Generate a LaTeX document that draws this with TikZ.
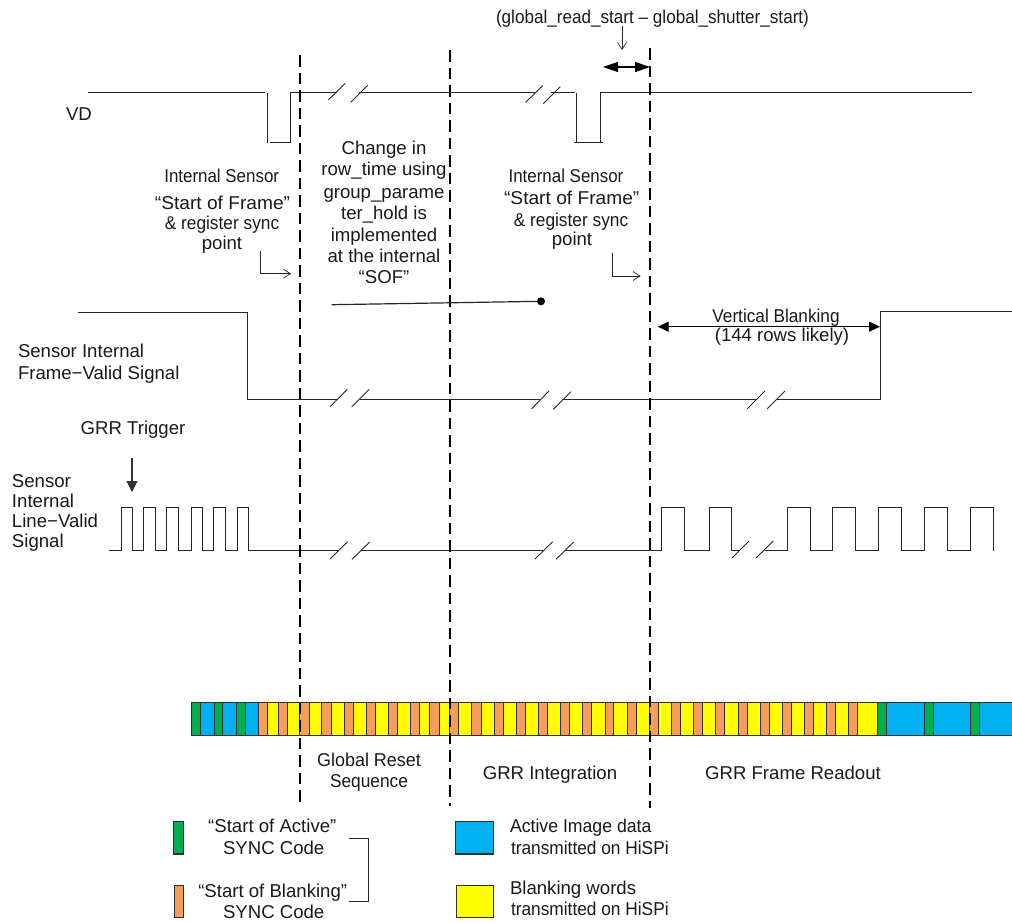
\documentclass[tikz,border=0pt]{standalone}
\usepackage{fontspec}
\setmainfont{Liberation Sans}
\usetikzlibrary{arrows.meta}
\definecolor{syncgreen}{HTML}{00B050}
\definecolor{dataBlue}{HTML}{00B0F0}
\definecolor{syncOrange}{HTML}{F79D5B}
\definecolor{wordYellow}{HTML}{FFFF00}
\definecolor{edgeGrey}{HTML}{303030}
\tikzset{
  sig/.style={line width=1.1pt,black!85,line join=miter},
  brk/.style={line width=0.9pt,black!85},
  cut/.style={line width=2.4pt,black,dash pattern=on 11.5pt off 6pt},
  lab/.style={font=\fontsize{18.6}{21}\selectfont,text height=.9em,text depth=.2em,inner sep=0pt,outer sep=0pt,black!90,yshift=-3pt},
  leftlab/.style={lab,anchor=west},
  thin arrow/.style={line width=.9pt,black!85,-{Straight Barb[length=7pt,width=9pt,line width=.7pt]}},
  big arrow/.style={line width=1.2pt,black,{Triangle[length=15pt,width=10pt]}-{Triangle[length=15pt,width=10pt]}},
  solid arrow/.style={line width=1.2pt,black,{Triangle[length=11pt,width=10pt]}-{Triangle[length=11pt,width=10pt]}},
  seg/.style={draw=edgeGrey,line width=1pt,inner sep=0pt},
  swatch/.style={draw=edgeGrey,line width=1.1pt}
}
\newcommand{\condensed}[2]{\scalebox{#1}[1]{#2}}
\begin{document}
\begin{tikzpicture}[x=1pt,y=-1pt]
\useasboundingbox (0,0) rectangle (1012,922);

% VD
\draw[sig] (88,92.5) -- (265,92.5);
\draw[sig] (267.5,92.5) -- (267.5,142.5);
\draw[sig] (270,142.5) -- (290.5,142.5) -- (290.5,92.5) -- (337,92.5);
\draw[sig] (359,92.5) -- (535,92.5);
\draw[sig] (551,92.5) -- (575,92.5);
\draw[sig] (576.5,92.5) -- (576.5,142.5);
\draw[sig] (574.3,142.5) -- (602.7,142.5);
\draw[sig] (600.5,142.5) -- (600.5,92.5) -- (972,92.5);
\draw[brk] (328.3,100) -- (345.3,83.3);
\draw[brk] (350.7,102.3) -- (367.7,85.3);
\draw[brk] (525.7,102.3) -- (542.7,85.7);
\draw[brk] (543.3,103.7) -- (560.3,86.7);

% Frame valid
\draw[sig] (78,312.5) -- (247.5,312.5) -- (247.5,399.5) -- (338,399.5);
\draw[sig] (360,399.5) -- (540,399.5);
\draw[sig] (562,399.5) -- (756,399.5);
\draw[sig] (776,399.5) -- (880.5,399.5) -- (880.5,311.5) -- (1012,311.5);
\draw[brk] (330,406.7) -- (347.3,389.3);
\draw[brk] (351.7,406.7) -- (369.3,389.3);
\draw[brk] (531.7,408.7) -- (549,391);
\draw[brk] (553.3,409.3) -- (571,391.7);
\draw[brk] (747.3,408.7) -- (765,391);
\draw[brk] (767.3,408.7) -- (785,391);

% Line valid
\draw[sig] (109,550.5) -- (121.5,550.5) -- (121.5,507.5) -- (132.5,507.5) -- (132.5,550.5)
  -- (143.5,550.5) -- (143.5,507.5) -- (155.5,507.5) -- (155.5,550.5)
  -- (166.5,550.5) -- (166.5,507.5) -- (178.5,507.5) -- (178.5,550.5)
  -- (191.5,550.5) -- (191.5,507.5) -- (202.5,507.5) -- (202.5,550.5)
  -- (213.5,550.5) -- (213.5,507.5) -- (225.5,507.5) -- (225.5,550.5)
  -- (237.5,550.5) -- (237.5,507.5) -- (248.5,507.5) -- (248.5,550.5) -- (338,550.5);
\draw[sig] (361,550.5) -- (544,550.5);
\draw[sig] (565,550.5) -- (661.5,550.5) -- (661.5,507.5) -- (684.5,507.5) -- (684.5,550.5)
  -- (709.5,550.5) -- (709.5,507.5) -- (731.5,507.5) -- (731.5,550.5) -- (740,550.5);
\draw[sig] (765,550.5) -- (787.5,550.5) -- (787.5,507.5) -- (810.5,507.5) -- (810.5,550.5)
  -- (832.5,550.5) -- (832.5,507.5) -- (855.5,507.5) -- (855.5,550.5)
  -- (878.5,550.5) -- (878.5,507.5) -- (901.5,507.5) -- (901.5,550.5)
  -- (924.5,550.5) -- (924.5,507.5) -- (947.5,507.5) -- (947.5,550.5)
  -- (970.5,550.5) -- (970.5,507.5) -- (993.5,507.5) -- (993.5,550.5);
\draw[brk] (330,559) -- (347.7,541.7);
\draw[brk] (352,559.3) -- (369.7,542);
\draw[brk] (535,559) -- (552.7,541.7);
\draw[brk] (556,559.3) -- (573.7,542);
\draw[brk] (731.7,558.3) -- (749,541);
\draw[brk] (755.7,558.3) -- (773.3,541);

% HiSPi bar
\foreach \a/\b/\c in {
191.3/200.3/syncgreen,200.3/214/dataBlue,214/222.7/syncgreen,222.7/236/dataBlue,236/245/syncgreen,245/258/dataBlue,
258/267.3/syncOrange,267.3/278/wordYellow,278/287/syncOrange,287/299.3/wordYellow,299.3/309/syncOrange,309/321.7/wordYellow,
321.7/331/syncOrange,331/344.3/wordYellow,344.3/353.3/syncOrange,353.3/366.3/wordYellow,366.3/375.7/syncOrange,375.7/388.7/wordYellow,
388.7/397.7/syncOrange,397.7/410/wordYellow,410/419/syncOrange,419/429.7/wordYellow,429.7/439/syncOrange,439/449.7/wordYellow,
449.7/458.7/syncOrange,458.7/471.7/wordYellow,471.7/481/syncOrange,481/494/wordYellow,494/503/syncOrange,503/516/wordYellow,
516/525.3/syncOrange,525.3/538.7/wordYellow,538.7/547.7/syncOrange,547.7/560.7/wordYellow,560.7/569.7/syncOrange,569.7/582.7/wordYellow,
582.7/591.7/syncOrange,591.7/605.3/wordYellow,605.3/613.7/syncOrange,613.7/627/wordYellow,627/636/syncOrange,636/649.3/wordYellow,
649.3/658.3/syncOrange,658.3/671.7/wordYellow,671.7/680.7/syncOrange,680.7/693.7/wordYellow,693.7/702.7/syncOrange,702.7/715.7/wordYellow,
715.7/724.7/syncOrange,724.7/738/wordYellow,738/747/syncOrange,747/760.3/wordYellow,760.3/769.3/syncOrange,769.3/782.3/wordYellow,
782.3/791.3/syncOrange,791.3/804.3/wordYellow,804.3/813.3/syncOrange,813.3/826.3/wordYellow,826.3/835.3/syncOrange,835.3/848.3/wordYellow,
848.3/857.3/syncOrange,857.3/877.3/wordYellow,877.3/886.7/syncgreen,886.7/924.3/dataBlue,924.3/933.7/syncgreen,933.7/970.7/dataBlue,
970.7/979.3/syncgreen,979.3/1012/dataBlue}
{\draw[seg,fill=\c] (\a,702.7) rectangle (\b,735);}

% phase boundaries
\draw[cut] (300,55) -- (300,806);
\draw[cut] (450,50) -- (450,806);
\draw[cut] (650,48) -- (650,808);

% top annotation
\node[lab] (delta) at (652.5,17) {\condensed{.92}{(global\_read\_start – global\_shutter\_start)}};
\coordinate (deltaDown) at (622,50);
\draw[thin arrow] (622,26) -- (deltaDown);
\coordinate (dL) at (603,67);
\coordinate (dR) at (650,67);
\draw[big arrow] (dL) -- (dR);

% signal names
\node[leftlab] (vd) at (66,114) {VD};
\node[leftlab] (fv1) at (18,351) {Sensor Internal};
\node[leftlab] (fv2) at (18,373) {Frame−Valid Signal};
\node[lab] (grr) at (133,428) {GRR Trigger};
\coordinate (grrTip) at (132,492);
\draw[line width=1.1pt,black!80,-{Triangle[length=11pt,width=11pt]}] (132,458) -- (grrTip);
\node[leftlab] (lv1) at (12,481) {Sensor};
\node[leftlab] (lv2) at (12,500.5) {Internal};
\node[leftlab] (lv3) at (12,520.5) {Line−Valid};
\node[leftlab] (lv4) at (12,540.5) {Signal};

% left SOF note
\node[lab] (sofA1) at (221.7,176) {\condensed{.91}{Internal Sensor}};
\node[lab] (sofA2) at (222.5,202.7) {\condensed{1.03}{“Start of Frame”}};
\node[lab] (sofA3) at (222,223) {\condensed{.93}{\& register sync}};
\node[lab] (sofA4) at (222,243) {point};
\coordinate (elbowA) at (260.3,250.7);
\draw[thin arrow] (elbowA) |- (291,273.7);

% middle note
\node[lab] (mid1) at (384,147.5) {Change in};
\node[lab] (mid2) at (384,169.3) {row\_time using};
\node[lab] (mid3) at (384,191.7) {group\_parame};
\node[lab] (mid4) at (384,213) {ter\_hold is};
\node[lab] (mid5) at (384,234.5) {implemented};
\node[lab] (mid6) at (384,255.5) {at the internal};
\node[lab] (mid7) at (384,277) {“SOF”};
\coordinate (lineStart) at (331.7,304.7);
\coordinate (dot) at (541,301.3);
\draw[line width=1.2pt,black!85] (lineStart) -- (dot);
\fill[black] (dot) circle (4pt);

% right SOF note
\node[lab] (sofB1) at (566,176) {\condensed{.91}{Internal Sensor}};
\node[lab] (sofB2) at (571.7,198) {\condensed{1.03}{“Start of Frame”}};
\node[lab] (sofB3) at (571,219.5) {\condensed{.93}{\& register sync}};
\node[lab] (sofB4) at (572,239) {point};
\coordinate (elbowB) at (612.3,253.3);
\draw[thin arrow] (elbowB) |- (640.7,276);

% vertical blanking
\coordinate (vbL) at (657.7,326.7);
\coordinate (vbR) at (880,326.7);
\draw[solid arrow] (vbL) -- (vbR);
\node[lab] (vb1) at (776,316) {\condensed{.925}{Vertical Blanking}};
\node[lab] (vb2) at (782,335) {(144 rows likely)};

% phase names
\node[lab] (ph1a) at (369,760) {\condensed{.965}{Global Reset}};
\node[lab] (ph1b) at (369,781) {\condensed{.93}{Sequence}};
\node[lab] (ph2) at (550,773) {GRR Integration};
\node[lab] (ph3) at (793,773) {GRR Frame Readout};

% legend
\draw[swatch,fill=syncgreen] (173.5,821.5) rectangle (183.5,854);
\draw[swatch,fill=syncOrange] (174.5,885.5) rectangle (183.5,917.5);
\draw[swatch,fill=dataBlue] (455.5,821.5) rectangle (493.5,854);
\draw[swatch,fill=wordYellow] (456.5,885.5) rectangle (493.5,917.5);
\node[lab] (lg1a) at (272.3,825.7) {“Start of Active”};
\node[lab] (lg1b) at (273.7,848) {SYNC Code};
\node[lab] (lg2a) at (272.7,891) {“Start of Blanking”};
\node[lab] (lg2b) at (273.7,912) {SYNC Code};
\coordinate (brA) at (349,838.5);
\coordinate (brB) at (349,901.5);
\draw[line width=1pt,black!85] (brA) -- (368.5,838.5) -- (368.5,901.5) -- (brB);
\node[leftlab] (lg3a) at (510,826) {\condensed{.95}{Active Image data}};
\node[leftlab] (lg3b) at (511,848) {\condensed{.93}{transmitted on HiSPi}};
\node[leftlab] (lg4a) at (510,888) {Blanking words};
\node[leftlab] (lg4b) at (511,909) {\condensed{.93}{transmitted on HiSPi}};
\end{tikzpicture}
\end{document}
